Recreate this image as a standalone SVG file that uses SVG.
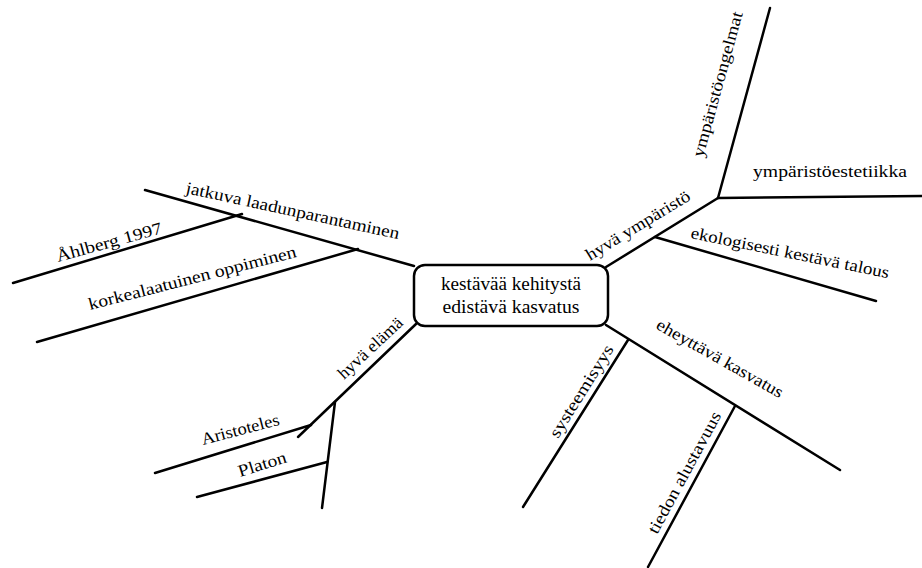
<svg xmlns="http://www.w3.org/2000/svg" width="922" height="568" viewBox="0 0 922 568">
<style>
.c line { stroke:#000; stroke-width:2.5; fill:none; stroke-linecap:round; stroke-linejoin:round; }
text { font-family:"Liberation Serif","DejaVu Serif",serif; font-size:17px; fill:#000; }
.box { fill:#fff; stroke:#000; stroke-width:2.5; }
.ctr { font-size:18px; text-anchor:middle; }
</style>
<rect width="922" height="568" fill="#fff"/>
<g class="c" id="connectors">
  <line x1="145" y1="190" x2="414" y2="266"/>
  <line x1="13" y1="283" x2="242" y2="214"/>
  <line x1="37" y1="342" x2="358" y2="249"/>
  <line x1="606" y1="267" x2="718" y2="198"/>
  <line x1="718" y1="198" x2="770" y2="8"/>
  <line x1="718" y1="198" x2="922" y2="196"/>
  <line x1="655" y1="237" x2="876" y2="301"/>
  <line x1="606" y1="325" x2="840" y2="470"/>
  <line x1="628" y1="340" x2="523" y2="507"/>
  <line x1="735" y1="406" x2="648" y2="567"/>
  <line x1="416" y1="324" x2="298" y2="437"/>
  <line x1="155" y1="473" x2="311" y2="425"/>
  <line x1="335" y1="402" x2="322" y2="508"/>
  <line x1="197" y1="497" x2="327" y2="462"/>
</g>
<g id="center">
  <rect class="box" x="414" y="265" width="194" height="61" rx="11"/>
  <text class="ctr" x="511" y="290" textLength="140" lengthAdjust="spacingAndGlyphs">kestävää kehitystä</text>
  <text class="ctr" x="511" y="313" textLength="137" lengthAdjust="spacingAndGlyphs">edistävä kasvatus</text>
</g>
<g id="jatkuva"><text transform="translate(185,193) rotate(12.2)" textLength="218" lengthAdjust="spacingAndGlyphs">jatkuva laadunparantaminen</text></g>
<g id="ahlberg"><text transform="translate(58,262) rotate(-15.4)" textLength="109" lengthAdjust="spacingAndGlyphs">Åhlberg 1997</text></g>
<g id="korkealaatuinen"><text transform="translate(90,310) rotate(-14.4)" textLength="214" lengthAdjust="spacingAndGlyphs">korkealaatuinen oppiminen</text></g>
<g id="hyva-ymparisto"><text transform="translate(590,261) rotate(-31.3)" textLength="119" lengthAdjust="spacingAndGlyphs">hyvä ympäristö</text></g>
<g id="ymparistoongelmat"><text transform="translate(703,158) rotate(-74.6)" textLength="150" lengthAdjust="spacingAndGlyphs">ympäristöongelmat</text></g>
<g id="ymparistoestetiikka"><text x="753" y="177" textLength="154" lengthAdjust="spacingAndGlyphs">ympäristöestetiikka</text></g>
<g id="ekologisesti"><text transform="translate(690,238) rotate(11.5)" textLength="202" lengthAdjust="spacingAndGlyphs">ekologisesti kestävä talous</text></g>
<g id="eheyttava"><text transform="translate(655,328) rotate(29.5)" textLength="143" lengthAdjust="spacingAndGlyphs">eheyttävä kasvatus</text></g>
<g id="systeemisyys"><text transform="translate(558,439) rotate(-58)" textLength="106" lengthAdjust="spacingAndGlyphs">systeemisyys</text></g>
<g id="tiedon"><text transform="translate(657,535) rotate(-61.6)" textLength="136" lengthAdjust="spacingAndGlyphs">tiedon alustavuus</text></g>
<g id="hyva-elama"><text transform="translate(344,380) rotate(-43)" textLength="82" lengthAdjust="spacingAndGlyphs">hyvä elämä</text></g>
<g id="aristoteles"><text transform="translate(203,445) rotate(-14.8)" textLength="80" lengthAdjust="spacingAndGlyphs">Aristoteles</text></g>
<g id="platon"><text transform="translate(240,477) rotate(-17.4)" textLength="50" lengthAdjust="spacingAndGlyphs">Platon</text></g>
</svg>
